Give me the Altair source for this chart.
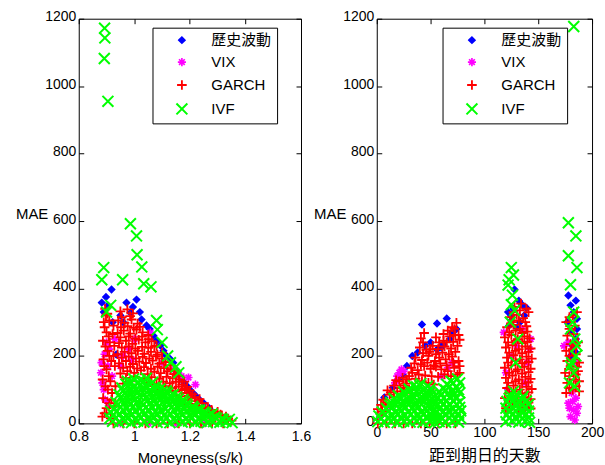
import altair as alt
import pandas as pd

SERIES = ["歷史波動", "VIX", "GARCH", "IVF"]
COLORS = ["#0000ff", "#ff00ff", "#ff0000", "#00ff00"]
FILLS = ["#0000ff", "transparent", "transparent", "transparent"]
SHAPES = [
    "diamond",
    "M-1,0L1,0M0,-1L0,1M-0.7,-0.7L0.7,0.7M-0.7,0.7L0.7,-0.7",
    "M-1,0L1,0M0,-1L0,1",
    "M-1,-1L1,1M-1,1L1,-1",
]
SIZES = [40, 120, 210, 60]
STROKES = [1.5, 2, 3, 3]

Y_TICKS = [0, 200, 400, 600, 800, 1000, 1200]
L_X_TICKS = [0.8, 1.0, 1.2, 1.4, 1.6]
R_X_TICKS = [0, 50, 100, 150, 200]

# ---------------- Left panel: MAE vs Moneyness ----------------
L_HV = [(0.883, 358), (0.890, 330), (0.898, 375), (0.918, 397), (0.905, 350), (0.922, 300),
        (0.935, 204), (0.950, 320), (0.960, 300), (0.972, 358), (0.986, 328), (0.995, 345),
        (1.008, 367), (1.020, 330), (1.026, 308), (1.044, 290), (1.055, 280), (1.069, 260),
        (1.080, 245), (1.094, 231), (1.105, 215), (1.115, 201), (1.130, 190), (1.140, 180),
        (1.150, 160), (1.160, 145), (1.170, 135), (1.180, 120), (1.190, 110), (1.200, 100),
        (1.210, 90), (1.220, 83), (1.235, 70), (1.250, 60), (1.270, 45)]

L_VIX = [(0.880, 150), (0.882, 180), (0.885, 120), (0.890, 100), (0.893, 205), (0.900, 240),
         (0.905, 170), (0.910, 220), (0.920, 140), (0.930, 250), (0.950, 170), (0.960, 200),
         (0.980, 220), (0.990, 190), (1.000, 250), (1.058, 269), (1.100, 180), (1.140, 160),
         (1.170, 140), (1.195, 136), (1.220, 115), (0.950, 0), (1.050, 0), (1.150, 0),
         (1.250, 0), (0.905, 60), (0.895, 70)]

L_GARCH = [(0.950, 332), (0.975, 338), (0.995, 326),
           (0.942, 305), (0.965, 298), (0.990, 308), (1.012, 296),
           (0.940, 268), (0.962, 275), (0.985, 266), (1.008, 278), (1.030, 270), (1.050, 262),
           (0.945, 238), (0.970, 245), (0.993, 236), (1.016, 248), (1.040, 240), (1.062, 244), (1.080, 230),
           (0.940, 205), (0.965, 212), (0.990, 208), (1.013, 215), (1.036, 206), (1.060, 212), (1.083, 204), (1.100, 210),
           (0.945, 178), (0.970, 185), (0.995, 176), (1.018, 183), (1.042, 179), (1.066, 186), (1.090, 177), (1.113, 182), (1.130, 172),
           (0.950, 148), (0.975, 155), (1.000, 150), (1.024, 157), (1.048, 146), (1.072, 153), (1.095, 149), (1.120, 155), (1.143, 146), (1.160, 140),
           (0.960, 118), (0.985, 125), (1.058, 122), (1.080, 116), (1.104, 124), (1.128, 119), (1.150, 123), (1.172, 115), (1.190, 108),
           (1.100, 92), (1.125, 98), (1.148, 94), (1.170, 99), (1.190, 90), (1.210, 86),
           (1.160, 72), (1.182, 68), (1.205, 74), (1.228, 66), (1.245, 60),
           (1.210, 46), (1.232, 50), (1.255, 44), (1.278, 40), (1.300, 34),
           (1.270, 22), (1.292, 18), (1.315, 24), (1.338, 14), (1.350, 8),
           (0.955, 315), (0.985, 318),
           (0.952, 285), (0.976, 288), (0.998, 283), (1.020, 286),
           (0.950, 255), (0.980, 258), (1.004, 252), (1.028, 257), (1.052, 250),
           (0.955, 225), (0.980, 228), (1.004, 222), (1.028, 227), (1.050, 224), (1.072, 228),
           (0.955, 195), (0.980, 198), (1.006, 193), (1.030, 197), (1.054, 192), (1.078, 199), (1.100, 193),
           (0.960, 165), (0.985, 168), (1.010, 163), (1.035, 167), (1.060, 162), (1.084, 168), (1.107, 164), (1.130, 160), (1.150, 156),
           (0.970, 135), (1.000, 138), (1.036, 133), (1.062, 137), (1.090, 132), (1.116, 138), (1.138, 134), (1.162, 130), (1.180, 124),
           (1.085, 106), (1.112, 110), (1.137, 105), (1.160, 109), (1.182, 102), (1.200, 97),
           (1.140, 84), (1.170, 80), (1.195, 82), (1.218, 78), (1.235, 72),
           (1.195, 58), (1.220, 56), (1.243, 52), (1.265, 48),
           (1.245, 34), (1.268, 31), (1.290, 28), (1.310, 26), (1.330, 20),
           (0.925, 0), (0.960, 0), (1.000, 0), (1.040, 0), (1.080, 0), (1.120, 0), (1.160, 0),
           (1.200, 0), (1.240, 0), (1.280, 0), (1.320, 0),
           (0.885, 20), (0.900, 45), (0.915, 15), (0.888, 75), (0.905, 100), (0.918, 70),
           (0.886, 130), (0.900, 160), (0.914, 125), (0.889, 190), (0.904, 215), (0.917, 185),
           (0.887, 245), (0.900, 270), (0.912, 240), (0.890, 300), (0.903, 325), (0.895, 340),
           (0.925, 290), (0.928, 230), (0.930, 170), (0.932, 110), (0.930, 50),
           (0.893, 30), (0.910, 60), (0.896, 110), (0.908, 140), (0.892, 170), (0.910, 200),
           (0.896, 228), (0.908, 258), (0.893, 285), (0.910, 305), (0.898, 320), (0.922, 265),
           (0.925, 200), (0.920, 90)]

L_IVF = [(0.922, 6), (0.945, 3), (0.968, 8), (0.990, 2), (1.012, 7), (1.035, 4), (1.060, 9),
         (1.082, 3), (1.105, 6), (1.128, 2), (1.150, 8), (1.172, 4), (1.195, 7), (1.218, 3),
         (1.240, 6), (1.262, 2), (1.285, 5), (1.308, 3), (1.330, 6), (1.352, 2),
         (0.934, 16), (0.957, 13), (0.980, 18), (1.002, 12), (1.024, 17), (1.047, 14), (1.071, 19),
         (1.094, 13), (1.117, 16), (1.140, 12), (1.162, 18), (1.184, 14), (1.207, 17), (1.230, 13),
         (1.252, 16), (1.274, 12), (1.297, 15), (1.320, 10), (1.342, 12),
         (0.925, 24), (0.948, 28), (0.970, 22), (0.993, 27), (1.016, 25), (1.040, 30), (1.063, 23),
         (1.085, 27), (1.108, 24), (1.130, 29), (1.153, 22), (1.176, 26), (1.200, 24), (1.222, 28),
         (1.245, 21), (1.268, 25), (1.290, 19), (1.315, 14),
         (0.937, 36), (0.960, 39), (0.982, 33), (1.005, 38), (1.028, 35), (1.052, 40), (1.075, 34),
         (1.097, 38), (1.120, 35), (1.142, 39), (1.165, 33), (1.188, 37), (1.211, 34), (1.234, 36),
         (1.257, 30), (1.280, 28),
         (0.928, 42), (0.950, 49), (0.973, 45), (0.996, 50), (1.020, 44), (1.043, 48), (1.066, 46),
         (1.090, 51), (1.112, 43), (1.135, 49), (1.158, 45), (1.180, 47), (1.203, 42), (1.226, 40), (1.250, 33),
         (0.940, 55), (0.962, 59), (0.985, 56), (1.008, 60), (1.031, 54), (1.055, 58), (1.078, 57),
         (1.100, 61), (1.124, 55), (1.147, 58), (1.170, 54), (1.192, 52), (1.215, 45), (1.235, 40),
         (0.935, 62), (0.958, 70), (0.980, 66), (1.003, 71), (1.026, 64), (1.050, 69), (1.073, 67),
         (1.096, 72), (1.120, 65), (1.143, 68), (1.166, 62), (1.188, 58), (1.210, 50),
         (0.950, 76), (0.973, 81), (0.996, 77), (1.018, 82), (1.041, 75), (1.065, 80), (1.088, 78),
         (1.110, 79), (1.135, 74), (1.158, 72), (1.180, 64),
         (0.945, 85), (0.968, 92), (0.990, 88), (1.013, 94), (1.036, 87), (1.060, 91), (1.083, 89),
         (1.106, 86), (1.130, 82), (1.152, 78), (1.175, 70),
         (0.960, 96), (0.983, 101), (1.006, 98), (1.030, 103), (1.053, 97), (1.077, 100), (1.100, 94),
         (1.120, 90), (1.140, 85),
         (0.955, 105), (0.978, 112), (1.000, 108), (1.023, 115), (1.046, 109), (1.070, 106), (1.092, 102), (1.115, 96),
         (0.970, 116), (0.990, 121), (1.012, 118), (1.035, 124), (1.058, 115), (1.080, 110),
         (0.975, 125), (0.998, 132), (1.020, 128), (1.043, 134), (1.066, 122),
         (0.912, 15), (0.915, 35),
         (0.893, 1172), (0.894, 1143), (0.892, 1082), (0.905, 955), (0.986, 592), (1.008, 556),
         (1.010, 500), (0.890, 462), (1.027, 464), (0.883, 426), (0.958, 426), (1.034, 414),
         (1.060, 405), (1.080, 305), (1.083, 278), (1.100, 240), (1.130, 180), (1.150, 168),
         (0.915, 350), (0.900, 330), (1.120, 200), (1.160, 150)]

# ---------------- Right panel: MAE vs days to maturity ----------------
R_HV = [(7, 77), (15, 106), (28, 170), (33, 200), (38, 210), (42, 293), (45, 230), (50, 240),
        (56, 296), (56, 219), (60, 225), (62, 235), (65, 311), (68, 250), (70, 270), (74, 280),
        (20, 130), (24, 145),
        (122, 330), (123, 290), (125, 319), (125, 305), (127, 340), (128, 397), (130, 284),
        (132, 364), (133, 300), (135, 352), (137, 320), (139, 343),
        (177, 300), (178, 379), (180, 350), (180, 270), (180, 200), (182, 230), (183, 330),
        (185, 364), (185, 250), (185, 210), (186, 310), (186, 280)]

R_VIX = [(17, 120), (19, 140), (21, 150), (23, 160), (25, 155), (50, 100), (60, 140), (66, 165),
         (70, 180), (3, 20), (10, 50),
         (118, 270), (120, 150), (122, 100), (125, 200), (130, 230), (135, 280), (138, 120),
         (140, 180), (142, 220), (143, 250), (128, 60),
         (174, 230), (178, 240), (178, 60), (179, 45), (180, 20), (181, 90), (182, 65), (183, 40),
         (184, 10), (185, 75), (185, 180), (186, 30), (187, 50)]

R_GARCH = [(1, 0), (9, 0), (17, 0), (25, 0), (33, 0), (41, 0), (49, 0), (57, 0), (65, 0), (73, 0),
           (1, 42), (5, 35), (9, 50), (6, 70), (12, 85), (16, 78),
           (10, 98), (16, 112), (22, 105), (27, 118), (30, 100),
           (18, 128), (24, 135), (30, 140), (36, 132), (42, 125), (48, 120), (53, 115),
           (32, 165), (38, 158), (44, 170), (50, 162), (55, 168), (60, 160), (66, 155), (72, 165), (77, 150),
           (36, 195), (42, 188), (48, 200), (54, 185), (58, 195), (64, 190), (70, 198), (76, 185),
           (40, 225), (46, 218), (52, 230), (57, 220), (63, 228), (69, 222), (75, 230),
           (41, 252), (44, 268), (55, 255), (62, 245), (68, 258), (73, 262), (77, 248),
           (70, 285), (74, 298), (62, 265),
           (4, 55), (8, 62), (13, 92), (19, 95), (25, 112), (21, 125), (28, 130), (33, 150),
           (39, 145), (45, 142), (51, 140), (57, 138), (63, 145), (69, 140), (75, 145),
           (35, 178), (41, 175), (47, 180), (53, 172), (59, 178), (65, 172), (71, 180), (77, 170),
           (43, 208), (49, 212), (55, 205), (61, 210), (67, 205), (73, 212),
           (43, 240), (50, 220), (58, 240), (65, 240), (71, 242), (76, 262), (66, 275), (72, 280),
           (120, 45), (126, 52), (132, 40), (138, 48), (143, 44),
           (119, 75), (125, 82), (131, 70), (137, 78), (143, 72),
           (121, 105), (127, 112), (133, 100), (139, 108), (144, 102),
           (120, 135), (126, 142), (132, 130), (138, 138), (143, 132),
           (119, 165), (125, 172), (131, 160), (137, 168), (143, 162),
           (121, 195), (127, 202), (133, 190), (139, 198), (144, 192),
           (120, 225), (126, 232), (132, 220), (138, 228), (143, 222),
           (119, 255), (125, 262), (131, 250), (137, 258), (142, 252),
           (121, 285), (127, 292), (133, 280), (139, 288),
           (124, 315), (130, 322), (136, 312), (141, 330),
           (128, 345), (134, 355),
           (123, 60), (129, 65), (135, 58), (141, 62), (123, 90), (129, 95), (135, 88), (141, 92),
           (122, 120), (129, 125), (135, 118), (141, 122), (123, 150), (129, 155), (135, 148), (141, 152),
           (122, 180), (129, 185), (135, 178), (141, 182), (123, 210), (129, 215), (135, 208), (141, 212),
           (122, 240), (129, 245), (135, 238), (140, 242), (123, 270), (129, 275), (135, 268), (140, 272),
           (126, 300), (132, 305), (138, 300), (127, 330), (133, 335), (139, 340),
           (176, 90), (182, 100), (188, 95), (177, 120), (183, 130), (188, 125), (175, 150),
           (181, 160), (187, 155), (177, 185), (183, 190), (188, 180), (176, 215), (182, 220),
           (187, 240), (177, 260), (183, 265), (176, 300), (182, 320), (186, 330),
           (179, 105), (185, 110), (179, 140), (185, 145), (180, 170), (186, 168), (179, 200),
           (185, 205), (180, 235), (185, 230), (179, 280), (184, 290), (179, 315)]

R_IVF = [(1, 5), (7, 3), (13, 7), (19, 2), (25, 6), (31, 4), (37, 8), (43, 3), (49, 6), (54, 2),
         (58, 5), (64, 3), (70, 7), (76, 4),
         (4, 14), (10, 16), (16, 13), (22, 17), (28, 12), (34, 16), (40, 14), (46, 18), (52, 13),
         (56, 15), (61, 14), (67, 17), (73, 12), (78, 15),
         (2, 22), (8, 27), (14, 24), (20, 28), (26, 23), (32, 27), (38, 25), (44, 29), (50, 24),
         (54, 27), (58, 23), (64, 28), (70, 25), (76, 27),
         (5, 34), (11, 37), (17, 33), (23, 38), (29, 34), (35, 37), (41, 33), (47, 38), (52, 35),
         (56, 36), (61, 33), (67, 38), (73, 34), (78, 37),
         (9, 44), (15, 48), (21, 43), (27, 47), (33, 45), (39, 49), (45, 44), (51, 48), (59, 45),
         (65, 49), (71, 43), (77, 47),
         (12, 54), (18, 57), (24, 53), (30, 58), (36, 54), (42, 57), (48, 53), (53, 56), (57, 55),
         (62, 58), (68, 54), (74, 57),
         (13, 62), (18, 67), (24, 64), (30, 68), (36, 63), (42, 69), (48, 65), (53, 67), (59, 64),
         (65, 68), (71, 66), (77, 63),
         (16, 74), (22, 77), (28, 73), (34, 78), (40, 74), (46, 77), (52, 73), (57, 76), (62, 75),
         (68, 78), (74, 74),
         (20, 82), (27, 87), (33, 84), (39, 89), (45, 83), (51, 86), (60, 84), (66, 88), (72, 85), (77, 90),
         (25, 93), (31, 97), (37, 94), (43, 98), (49, 92), (58, 95), (64, 99), (70, 96), (76, 100),
         (30, 102), (37, 108), (44, 100), (50, 104), (62, 103), (68, 109), (74, 106), (77, 120),
         (34, 112), (41, 118), (47, 110), (65, 116), (71, 120),
         (69, 125), (75, 132), (40, 112),
         (120, 5), (126, 8), (132, 4), (138, 7), (142, 3), (121, 25), (127, 28), (133, 22), (139, 27),
         (120, 45), (126, 48), (132, 44), (138, 49), (121, 65), (127, 68), (133, 62), (139, 66),
         (124, 82), (130, 86), (136, 80),
         (123, 15), (129, 18), (135, 14), (141, 16), (123, 35), (129, 38), (135, 33), (141, 36),
         (123, 55), (129, 58), (135, 53), (141, 56), (123, 74), (129, 77), (135, 72), (127, 95),
         (125, 462), (123, 426), (122, 410), (127, 440), (125, 352), (126, 380), (128, 335),
         (124, 300), (131, 250), (129, 180),
         (183, 1177), (178, 595), (185, 556), (178, 497),
         (186, 462), (180, 411), (183, 330), (182, 300), (184, 250), (180, 280), (186, 230),
         (181, 180), (183, 150), (179, 120), (185, 200), (180, 170), (184, 110)]


def to_frame(groups):
    rows = []
    for name, pts in zip(SERIES, groups):
        for x, y in pts:
            rows.append({"x": x, "y": y, "series": name})
    return pd.DataFrame(rows)


LATIN = "Liberation Sans"
CJK = "'Liberation Sans', 'Noto Sans CJK TC'"


def panel(df, width, xdomain, xticks, xlabel_expr, xlabel_pad, xtitle, xtitle_font, xtitle_size,
          xtitle_y, legend_x):
    legend = alt.Legend(
        title=None, orient="none", legendX=legend_x, legendY=9,
        fillColor="white", strokeColor="black", padding=5, rowPadding=6,
        symbolOffset=17, labelOffset=22, labelFont=CJK, labelFontSize=15,
        labelColor="black", symbolStrokeWidth=2,
        labelExpr="datum.label + '   '", zindex=5,
    )
    xscale = alt.Scale(domain=xdomain, nice=False, zero=False)
    yscale = alt.Scale(domain=[0, 1200], nice=False, zero=False)
    pts = alt.Chart(df).mark_point(filled=False, opacity=1).encode(
        x=alt.X("x:Q", scale=xscale, axis=alt.Axis(
            values=xticks, labelExpr=xlabel_expr, orient="bottom", offset=-5, tickSize=5,
            labelPadding=xlabel_pad, labelFlush=False, title=xtitle, titleFont=xtitle_font,
            titleFontSize=xtitle_size, titleY=xtitle_y, titleBaseline="alphabetic")),
        y=alt.Y("y:Q", scale=yscale, axis=alt.Axis(
            values=Y_TICKS, format="d", orient="left", offset=-5, tickSize=5, labelPadding=3,
            labelOffset=-2,
            title="MAE", titleAngle=0, titleAlign="right", titleBaseline="middle",
            titleX=-36, titleY=195, titleFont=LATIN, titleFontSize=15)),
        color=alt.Color("series:N", scale=alt.Scale(domain=SERIES, range=COLORS), legend=legend),
        fill=alt.Fill("series:N", scale=alt.Scale(domain=SERIES, range=FILLS), legend=legend),
        shape=alt.Shape("series:N", scale=alt.Scale(domain=SERIES, range=SHAPES), legend=legend),
        size=alt.Size("series:N", scale=alt.Scale(domain=SERIES, range=SIZES), legend=legend),
        strokeWidth=alt.StrokeWidth("series:N", scale=alt.Scale(domain=SERIES, range=STROKES), legend=legend),
    )
    mirror = alt.Chart(df).mark_point(opacity=0).encode(
        x=alt.X("x:Q", scale=xscale, axis=alt.Axis(
            values=xticks, orient="top", offset=-5, tickSize=5, labels=False, title=None)),
        y=alt.Y("y:Q", scale=yscale, axis=alt.Axis(
            values=Y_TICKS, orient="right", offset=-5, tickSize=5, labels=False, title=None)),
    )
    return alt.layer(pts, mirror).resolve_axis(x="independent", y="independent").properties(
        width=width, height=406)


left = panel(to_frame([L_HV, L_VIX, L_GARCH, L_IVF]), 223, [0.8, 1.6], L_X_TICKS,
             "format(datum.value, '~g')", 6, "Moneyness(s/k)", LATIN, 15, 44, 74)
right = panel(to_frame([R_HV, R_VIX, R_GARCH, R_IVF]), 216, [0, 200], R_X_TICKS,
              "format(datum.value, 'd')", 2, "距到期日的天數", "Noto Sans CJK TC", 16, 42, 66)

chart = alt.hconcat(left, right, spacing=76, bounds="flush").resolve_scale(
    x="independent", y="independent", color="independent", fill="independent",
    shape="independent", size="independent", strokeWidth="independent"
).resolve_legend(
    color="independent", fill="independent", shape="independent", size="independent",
    strokeWidth="independent"
).properties(
    padding={"left": 14, "top": 8, "right": 0, "bottom": 1},
    background="white",
).configure_view(
    stroke="black", strokeWidth=1
).configure_axis(
    domain=False, grid=False, tickColor="black", tickWidth=1,
    labelFont=LATIN, labelFontSize=14, labelColor="black",
    titleColor="black", titleFontWeight="normal",
)

chart.save("out.html", embed_options={"renderer": "svg", "actions": False})
